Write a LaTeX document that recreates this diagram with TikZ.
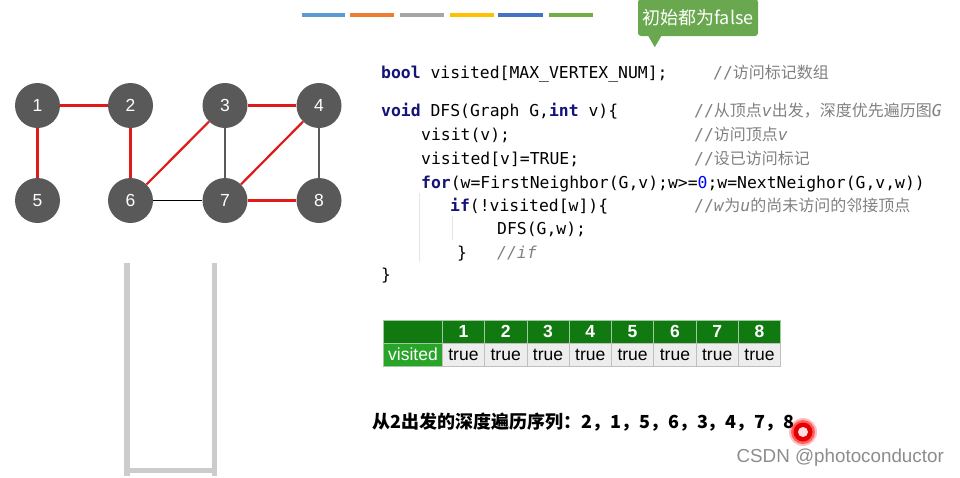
\documentclass[tikz,border=0pt]{standalone}
\usepackage{fontspec}
\setmainfont{Liberation Sans}
\setmonofont{DejaVu Sans Mono}
\newfontfamily\cjk{Noto Sans CJK SC}
\usetikzlibrary{calc}

\definecolor{nodegray}{RGB}{89,89,89}
\definecolor{treered}{RGB}{222,26,26}
\definecolor{kwblue}{RGB}{20,20,120}
\definecolor{numblue}{RGB}{0,0,255}
\definecolor{cmgray}{RGB}{128,128,128}
\definecolor{hintgreen}{RGB}{106,168,79}
\definecolor{headgreen}{RGB}{16,122,16}
\definecolor{visgreen}{RGB}{40,165,40}
\definecolor{barA}{RGB}{91,155,213}
\definecolor{barB}{RGB}{237,125,49}
\definecolor{barC}{RGB}{165,165,165}
\definecolor{barD}{RGB}{255,192,0}
\definecolor{barE}{RGB}{68,114,196}
\definecolor{barF}{RGB}{112,173,71}

\newcommand\kw[1]{\textbf{\color{kwblue}#1}}
\newcommand\cm[1]{{\color{cmgray}#1}}
\newcommand\zh[1]{{\cjk\fontsize{16}{18}\selectfont #1}}

\begin{document}
\begin{tikzpicture}[
    x=1pt, y=-1pt,
    vtx/.style   = {circle, fill=nodegray, minimum size=45pt, inner sep=0pt,
                    text=white, font=\fontsize{17.5}{20}\selectfont},
    tree/.style  = {draw=treered, line width=2.2pt},
    back/.style  = {draw=black!65, line width=1.8pt},
    cross/.style = {draw=black, line width=1.4pt},
    codeline/.style = {anchor=base west, inner sep=0pt,
                       font=\ttfamily\fontsize{16.4}{18}\selectfont},
    guide/.style = {draw=black!10, line width=0.8pt},
    hcell/.style = {fill=headgreen, draw=white!60!headgreen, line width=0.6pt,
                    minimum width=42.3pt, minimum height=23pt, inner sep=0pt,
                    text=white, font=\fontsize{17.5}{18}\selectfont},
    dcell/.style = {fill=black!7, draw=black!25, line width=0.6pt,
                    minimum width=42.3pt, minimum height=23pt, inner sep=0pt,
                    font=\fontsize{17.5}{18}\selectfont},
    bar/.style   = {line width=4.5pt},
    stackwall/.style = {draw=black!20, line width=5.5pt}
  ]
  \useasboundingbox (0,0) rectangle (960,477);

  % --- colour bars (top) ---
  \draw[bar, barA] (302,15) -- (345,15);
  \draw[bar, barB] (350,15) -- (394,15);
  \draw[bar, barC] (400,15) -- (444,15);
  \draw[bar, barD] (450,15) -- (494,15);
  \draw[bar, barE] (498,15) -- (543,15);
  \draw[bar, barF] (549,15) -- (593,15);

  % --- hint bubble ---
  \node[fill=hintgreen, rounded corners=3pt, minimum width=120pt, minimum height=37pt,
        inner sep=0pt, text=white, font=\cjk\fontsize{18}{20}\selectfont]
       (hint) at (698,17.5) {初始都为false};
  \fill[hintgreen] ($(hint.south west)+(10,-1)$) -- ($(hint.south west)+(17,11)$)
                   -- ($(hint.south west)+(24,-1)$) -- cycle;

  % --- graph ---
  \node[vtx] (v1) at (37.5,105.5) {1};
  \node[vtx] (v2) at (130.5,105.5) {2};
  \node[vtx] (v3) at (225,105.5) {3};
  \node[vtx] (v4) at (319,105.5) {4};
  \node[vtx] (v5) at (37.5,200.5) {5};
  \node[vtx] (v6) at (130.5,200.5) {6};
  \node[vtx] (v7) at (225,200.5) {7};
  \node[vtx] (v8) at (319,200.5) {8};

  \draw[tree]  (v1) -- (v2);
  \draw[tree]  (v1) -- (v5);
  \draw[tree]  (v2) -- (v6);
  \draw[tree]  (v6) -- (v3);
  \draw[tree]  (v3) -- (v4);
  \draw[tree]  (v4) -- (v7);
  \draw[tree]  (v7) -- (v8);
  \draw[back]  (v3) -- (v7);
  \draw[back]  (v4) -- (v8);
  \draw[cross] (v6) -- (v7);

  % --- stack ---
  \draw[stackwall] (127,263) -- (127,476);
  \draw[stackwall] (214.5,263) -- (214.5,476);
  \draw[stackwall] (127,470.5) -- (214.5,470.5);

  % --- code ---
  \draw[guide] (419,193) -- (419,262);
  \draw[guide] (452,216) -- (452,240);

  \node[codeline] (c1) at (381,78)  {\kw{bool} visited[MAX\_VERTEX\_NUM];};
  \node[codeline] (c2) at (381,116) {\kw{void} DFS(Graph G,\kw{int} v)\{};
  \node[codeline] (c3) at (421,140) {visit(v);};
  \node[codeline] (c4) at (421,164) {visited[v]=TRUE;};
  \node[codeline] (c5) at (421,188) {\kw{for}(w=FirstNeighbor(G,v);w>={\color{numblue}0};w=NextNeighor(G,v,w))};
  \node[codeline] (c6) at (450,211) {\kw{if}(!visited[w])\{};
  \node[codeline] (c7) at (497,234) {DFS(G,w);};
  \node[codeline] (c8) at (457,258) {\}};
  \node[codeline] (c8c) at (497,258) {\cm{\textit{//if}}};
  \node[codeline] (c9) at (381,280) {\}};

  \node[codeline] (m1) at (713,78)  {\cm{//\zh{访问标记数组}}};
  \node[codeline] (m2) at (694,116) {\cm{//\zh{从顶点}\textit{v}\zh{出发，深度优先遍历图}\textit{G}}};
  \node[codeline] (m3) at (694,140) {\cm{//\zh{访问顶点}\textit{v}}};
  \node[codeline] (m4) at (694,164) {\cm{//\zh{设已访问标记}}};
  \node[codeline] (m6) at (694,211) {\cm{//\textit{w}\zh{为}\textit{u}\zh{的尚未访问的邻接顶点}}};

  % --- visited table ---
  \node[hcell, minimum width=58.5pt] (h0) at (413,331.5) {};
  \node[hcell] (h1) at (463.4,331.5) {\bfseries 1};
  \node[hcell] (h2) at (505.7,331.5) {\bfseries 2};
  \node[hcell] (h3) at (548.0,331.5) {\bfseries 3};
  \node[hcell] (h4) at (590.3,331.5) {\bfseries 4};
  \node[hcell] (h5) at (632.6,331.5) {\bfseries 5};
  \node[hcell] (h6) at (674.9,331.5) {\bfseries 6};
  \node[hcell] (h7) at (717.2,331.5) {\bfseries 7};
  \node[hcell] (h8) at (759.5,331.5) {\bfseries 8};

  \node[hcell, fill=visgreen, minimum width=58.5pt] (d0) at (413,354.5) {visited};
  \node[dcell] (d1) at (463.4,354.5) {true};
  \node[dcell] (d2) at (505.7,354.5) {true};
  \node[dcell] (d3) at (548.0,354.5) {true};
  \node[dcell] (d4) at (590.3,354.5) {true};
  \node[dcell] (d5) at (632.6,354.5) {true};
  \node[dcell] (d6) at (674.9,354.5) {true};
  \node[dcell] (d7) at (717.2,354.5) {true};
  \node[dcell] (d8) at (759.5,354.5) {true};

  % --- result line ---
  \node[anchor=west, inner sep=0pt, font=\cjk\bfseries\fontsize{18}{20}\selectfont]
       (seq) at (372,422) {从2出发的深度遍历序列：2，1，5，6，3，4，7，8};

  % --- pointer dot ---
  \fill[red, opacity=0.25] (803,432) circle (14);
  \fill[red, opacity=0.5]  (803,432) circle (12);
  \fill[red!90!black]      (803,432) circle (9.5);
  \fill[red!12]            (803,432) circle (5);

  % --- watermark ---
  \node[anchor=east, inner sep=0pt, text=black!45, font=\fontsize{18.8}{20}\selectfont]
       (wm) at (944,458) {CSDN @photoconductor};

\end{tikzpicture}
\end{document}
